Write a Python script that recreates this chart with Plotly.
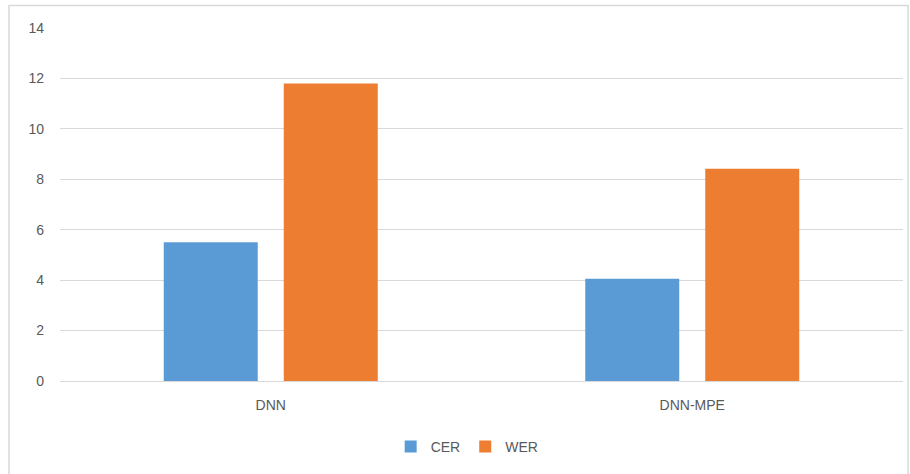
import plotly.graph_objects as go

categories = ["DNN", "DNN-MPE"]
cer_values = [5.5, 4.06]
wer_values = [11.8, 8.42]
y_ticks = [0, 2, 4, 6, 8, 10, 12, 14]

font_family = "Liberation Sans, Arial, sans-serif"
text_color = "#595959"

fig = go.Figure()
fig.add_trace(go.Bar(name="CER", x=categories, y=cer_values, marker=dict(color="#5B9BD5", line=dict(width=0))))
fig.add_trace(go.Bar(name="WER", x=categories, y=wer_values, marker=dict(color="#ED7D31", line=dict(width=0))))

fig.update_layout(
    width=910, height=474,
    margin=dict(l=60, r=7, t=28, b=93),
    paper_bgcolor="white", plot_bgcolor="white",
    barmode="group", bargap=0.4306, bargroupgap=0.2167,
    font=dict(family=font_family, size=14, color=text_color),
    showlegend=True,
    legend=dict(orientation="h", x=0.483, xanchor="center", y=-0.187, yanchor="middle",
                font=dict(size=14, color=text_color), itemwidth=30, traceorder="normal"),
    xaxis=dict(showgrid=False, showline=False, ticks="", tickfont=dict(size=14, color=text_color),
               ticklabelstandoff=14),
    yaxis=dict(range=[0, 14], tickvals=y_ticks, showgrid=True, gridcolor="#D9D9D9", gridwidth=1,
               zeroline=True, zerolinecolor="#D9D9D9", zerolinewidth=1, showline=False, ticks="",
               tickfont=dict(size=14, color=text_color), ticklabelstandoff=15),
    shapes=[dict(type="rect", xref="paper", yref="paper", x0=-0.0605, x1=1.006, y0=-0.28, y1=1.0637,
                 line=dict(color="#D9D9D9", width=1.5), fillcolor="rgba(0,0,0,0)", layer="below")],
)

fig.write_html("out.html")
